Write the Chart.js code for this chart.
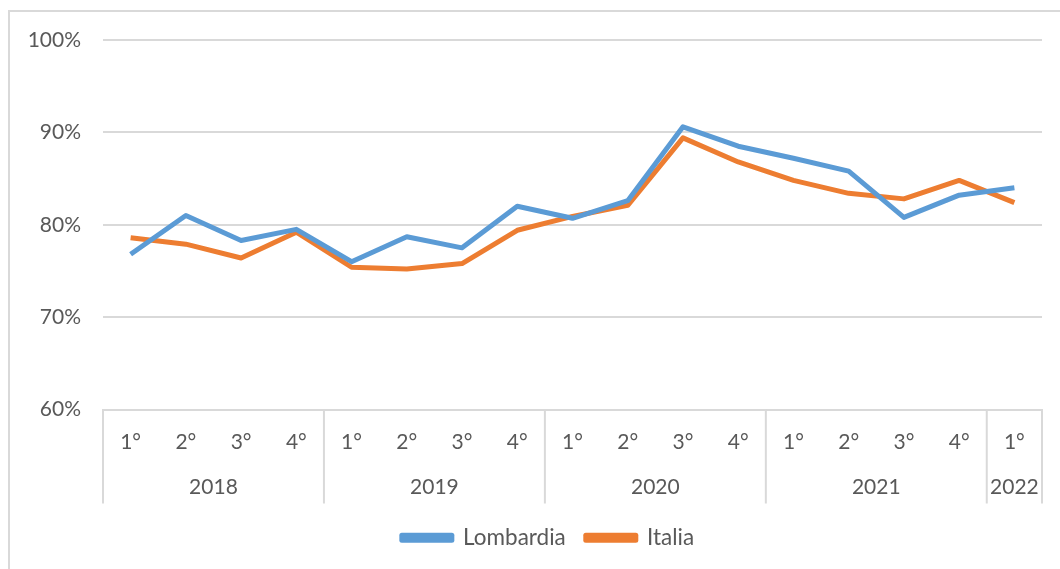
<!DOCTYPE html>
<html>
<head>
<meta charset="utf-8">
<script src="https://cdn.jsdelivr.net/npm/chart.js@4.4.1/dist/chart.umd.min.js"></script>
<style>
  html, body { margin: 0; padding: 0; background: #fff; overflow: hidden; }
  #frame { position: absolute; left: 8px; top: 10px; width: 1070px; height: 580px; border: 2px solid #d9d9d9; box-sizing: border-box; }
  #wrap { position: absolute; left: 0; top: 0; width: 1060px; height: 569px; }
</style>
</head>
<body>
<div id="frame"></div>
<div id="wrap"><canvas id="c" width="1060" height="569"></canvas></div>
<script>
const quarters = ["1°","2°","3°","4°","1°","2°","3°","4°","1°","2°","3°","4°","1°","2°","3°","4°","1°"];
const years = ["2018","2019","2020","2021","2022"];
const yearSizes = [4, 4, 4, 4, 1];
const lombardia = [76.8, 81.0, 78.3, 79.5, 76.0, 78.7, 77.5, 82.0, 80.7, 82.6, 90.6, 88.5, 87.2, 85.8, 80.8, 83.2, 84.0];
const italia = [78.6, 77.9, 76.4, 79.2, 75.4, 75.2, 75.8, 79.4, 80.9, 82.1, 89.4, 86.8, 84.8, 83.4, 82.8, 84.8, 82.4];
const yTicks = [60, 70, 80, 90, 100];

const FONT = "Lato, 'Open Sans', sans-serif";
const TXT = "#595959";
const GRID = "#d9d9d9";
const FS = 21;

const yearPlugin = {
  id: 'yearGroups',
  afterLayout(chart) {
    // centre the legend on the page like the original
    const lg = chart.legend;
    if (lg) { lg.left += 27; lg.right += 27; }
  },
  afterDraw(chart) {
    const ctx = chart.ctx;
    const x = chart.scales.x;
    const area = chart.chartArea;
    const half = (x.getPixelForValue(1) - x.getPixelForValue(0)) / 2;
    const top = area.bottom;
    const bottom = area.bottom + 94;
    ctx.save();
    ctx.strokeStyle = GRID;
    ctx.lineWidth = 2;
    let idx = 0;
    const bounds = [x.getPixelForValue(0) - half];
    yearSizes.forEach(n => { idx += n; bounds.push(x.getPixelForValue(idx - 1) + half); });
    bounds.forEach(b => {
      ctx.beginPath(); ctx.moveTo(b, top); ctx.lineTo(b, bottom); ctx.stroke();
    });
    ctx.fillStyle = TXT;
    ctx.font = FS + "px " + FONT;
    ctx.textAlign = "center";
    ctx.textBaseline = "middle";
    years.forEach((yr, i) => {
      ctx.fillText(yr, (bounds[i] + bounds[i + 1]) / 2, area.bottom + 78);
    });
    ctx.restore();
  }
};

new Chart(document.getElementById('c'), {
  type: 'line',
  data: {
    labels: quarters,
    datasets: [
      { label: 'Lombardia', data: lombardia, borderColor: '#5B9BD5', backgroundColor: '#5B9BD5', borderWidth: 5, pointRadius: 0, tension: 0, borderJoinStyle: 'round', fill: false },
      { label: 'Italia', data: italia, borderColor: '#ED7D31', backgroundColor: '#ED7D31', borderWidth: 5, pointRadius: 0, tension: 0, borderJoinStyle: 'round', fill: false }
    ]
  },
  options: {
    responsive: false,
    animation: false,
    layout: { padding: { left: 0, right: 18, top: 40, bottom: 10 } },
    scales: {
      x: {
        type: 'category',
        offset: true,
        grid: { display: false, drawTicks: false },
        border: { display: true, color: GRID, width: 2 },
        ticks: { color: TXT, font: { family: FONT, size: FS }, padding: 20, maxRotation: 0, autoSkip: false },
        afterFit(s) { s.height = 97; }
      },
      y: {
        min: 60, max: 100,
        afterBuildTicks(s) { s.ticks = yTicks.map(v => ({ value: v })); },
        grid: { color: GRID, lineWidth: 2, drawTicks: false },
        border: { display: false },
        ticks: { color: TXT, font: { family: FONT, size: FS }, padding: 22, callback: v => v + '%' },
        afterFit(s) { s.width = 103; }
      }
    },
    plugins: {
      legend: {
        position: 'bottom',
        labels: { color: TXT, font: { family: FONT, size: 22.5 }, boxWidth: 50, boxHeight: 5, padding: 20 }
      },
      tooltip: { enabled: false }
    }
  },
  plugins: [yearPlugin]
});
</script>
</body>
</html>
